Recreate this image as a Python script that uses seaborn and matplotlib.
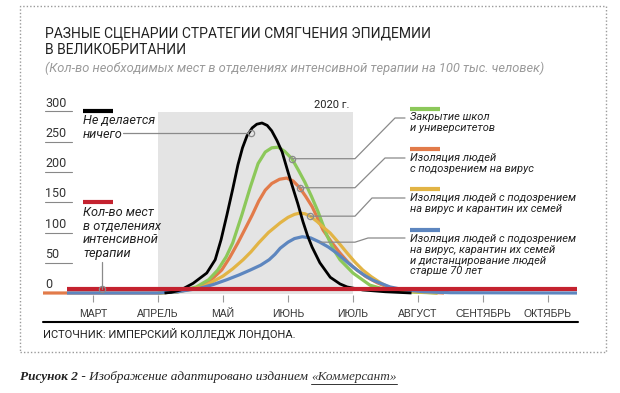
import numpy as np
import pandas as pd
import seaborn as sns
import matplotlib.pyplot as plt
from matplotlib.lines import Line2D
from matplotlib.patches import Rectangle

# x = months since start of March (0 = МАРТ ... 7 = ОКТЯБРЬ), y = ICU beds per 100k
months = ["МАРТ", "АПРЕЛЬ", "МАЙ", "ИЮНЬ", "ИЮЛЬ", "АВГУСТ", "СЕНТЯБРЬ", "ОКТЯБРЬ"]
y_ticks = [50, 100, 150, 200, 250, 300]

black_m = [1.1, 1.2, 1.35, 1.54, 1.75, 1.88, 1.97, 2.06, 2.15, 2.23, 2.3, 2.37, 2.45, 2.52,
           2.6, 2.68, 2.75, 2.83, 2.91, 3.0, 3.08, 3.15, 3.23, 3.3, 3.37, 3.49, 3.65, 3.8, 3.91,
           4.15, 4.5, 4.9]
black_v = [0, 1, 5, 16, 33, 55, 88, 129, 172, 212, 240, 260, 273, 279,
           281, 277, 268, 252, 233, 200, 172, 148, 118, 95, 76, 50, 26, 15, 10,
           5, 2, 0]

green_m = [1.0, 1.3, 1.59, 1.78, 1.92, 2.05, 2.15, 2.29, 2.42, 2.54, 2.65, 2.75, 2.85,
           2.95, 3.06, 3.16, 3.26, 3.36, 3.46, 3.6, 3.7, 3.8, 4.0, 4.26, 4.52, 4.8, 5.3]
green_v = [0, 2, 10, 22, 38, 60, 83, 129, 175, 214, 233, 240, 241,
           234, 222, 203, 183, 160, 135, 95, 72, 55, 33, 13, 5, 2, 0]

orange_m = [-0.77, 1.0, 1.3, 1.65, 1.82, 1.98, 2.1, 2.23, 2.35, 2.45, 2.55, 2.65, 2.75, 2.87,
            2.98, 3.08, 3.18, 3.27, 3.37, 3.45, 3.54, 3.67, 3.8, 3.93, 4.06, 4.2, 4.37, 4.57,
            4.85, 5.4]
orange_v = [0, 0, 2, 10, 22, 38, 58, 83, 108, 129, 152, 170, 181, 188,
            190, 185, 174, 160, 143, 125, 104, 84, 66, 50, 38, 27, 17, 8,
            3, 0]

yellow_m = [1.0, 1.3, 1.69, 2.0, 2.15, 2.31, 2.43, 2.55, 2.7, 2.88, 3.0, 3.1, 3.18, 3.26,
            3.34, 3.45, 3.55, 3.65, 3.78, 3.91, 4.03, 4.15, 4.28, 4.42, 4.57, 4.8, 5.3]
yellow_v = [0, 2, 10, 28, 40, 55, 68, 83, 100, 116, 125, 130, 132, 131,
            127, 118, 108, 99, 83, 66, 51, 38, 27, 17, 8, 3, 0]

blue_m = [-0.4, 1.0, 1.3, 1.65, 1.85, 2.06, 2.25, 2.42, 2.58, 2.71, 2.8, 2.88, 3.0, 3.1, 3.22,
          3.35, 3.49, 3.62, 3.75, 3.9, 4.06, 4.18, 4.31, 4.45, 4.57, 4.8, 5.1, 5.5, 7.45]
blue_v = [0, 0, 2, 8, 14, 22, 30, 38, 46, 55, 64, 74, 84, 90, 93,
          91, 84, 76, 66, 52, 38, 29, 21, 15, 10, 5, 2, 0.5, 0]

red_m = [-0.4, 7.45]
red_v = [7, 7]

series = [
    ("orange", orange_m, orange_v, "#e27b4a", 2.3),
    ("green", green_m, green_v, "#8cc85a", 2.3),
    ("yellow", yellow_m, yellow_v, "#e2b445", 2.3),
    ("blue", blue_m, blue_v, "#5d86bf", 2.3),
    ("black", black_m, black_v, "#000000", 2.0),
    ("red", red_m, red_v, "#c4222f", 3.0),
]
df = pd.concat([pd.DataFrame({"month": m, "value": v, "scenario": name})
                for name, m, v, _, _ in series], ignore_index=True)

sns.set_theme(style="white")
plt.rcParams["font.family"] = ["Roboto", "DejaVu Sans"]

W, H = 620, 393
fig = plt.figure(figsize=(6.2, 3.93), dpi=100)

# pixel helpers (figure is laid out in pixels of the reference)
X0, DX, Y0, DY = 93, 65, 293, 0.605
def px2m(px):
    return (px - X0) / DX
def py2v(py):
    return (Y0 - py) / DY
def fx(px):
    return px / W
def fy(py):
    return 1 - py / H

ax = fig.add_axes([fx(43), fy(295), (577 - 43) / W, (295 - 100) / H])
ax.set_xlim(px2m(43), px2m(577))
ax.set_ylim(py2v(295), py2v(100))

ax.fill_between([1, 4], -2, 300, color="#e4e4e4", lw=0, zorder=0)
ax.text(px2m(349), py2v(105), "2020 г.", ha="right", va="center", fontsize=8, color="#222")

for name, m, v, color, lw in series:
    sns.lineplot(data=df[df.scenario == name], x="month", y="value", color=color, lw=lw,
                 sort=False, estimator=None, ax=ax, solid_capstyle="butt", zorder=3)

# y value labels with short underlines
for t in y_ticks:
    ax.text(px2m(45), t + 3, str(t), ha="left", va="bottom", fontsize=9, color="#333", clip_on=False)
    ax.plot([px2m(45), px2m(72)], [t, t], color="#888", lw=0.8, clip_on=False)
ax.text(px2m(45), 3, "0", ha="left", va="bottom", fontsize=9, color="#333", clip_on=False)

ax.set_xticks(range(len(months)))
ax.set_xticklabels(months, family=["Liberation Sans", "DejaVu Sans"])
ax.set_yticks([])
ax.tick_params(axis="x", bottom=True, length=5, width=0.8, color="#999", pad=5,
               labelsize=7.5, labelcolor="#333")
for s in ax.spines.values():
    s.set_visible(False)
ax.set_xlabel("")
ax.set_ylabel("")
ax.patch.set_alpha(0)

# pointers
pcol = "#8a8a8a"
def pointer(pts, marker_at=None):
    ax.plot([px2m(p[0]) for p in pts], [py2v(p[1]) for p in pts], color=pcol, lw=0.9,
            clip_on=False, zorder=4)
    if marker_at is not None:
        ax.plot([px2m(marker_at[0])], [py2v(marker_at[1])], marker="o", ms=4.5, mfc="none",
                mec=pcol, mew=0.9, zorder=5)

def anchor(ms, vs, at):
    v = np.interp(at, ms, vs)
    return X0 + DX * at, Y0 - DY * v

gx, gy = anchor(green_m, green_v, 3.06)
pointer([(gx, gy), (355, gy), (395, 118), (405, 118)], (gx, gy))
ox, oy = anchor(orange_m, orange_v, 3.18)
pointer([(ox, oy), (355, oy), (385, 158), (405, 158)], (ox, oy))
yx, yy = anchor(yellow_m, yellow_v, 3.34)
pointer([(yx, yy), (355, yy), (372, 198), (405, 198)], (yx, yy))
bx, by = anchor(blue_m, blue_v, 3.49)
pointer([(bx, by), (355, by), (368, 238), (405, 238)])
kx, ky = 248, 133
pointer([(123, ky), (kx, ky)], (kx + 3, ky))
pointer([(102, 262), (102, 289)], (102, 289))

# legend swatches and labels
def swatch(x0, x1, py, color):
    ax.plot([px2m(x0), px2m(x1)], [py2v(py)] * 2, color=color, lw=3, clip_on=False,
            solid_capstyle="butt")

def label(px, py, s, size, ls=1.1):
    fig.text(fx(px), fy(py), s, ha="left", va="top", fontsize=size, style="italic",
             color="#222", linespacing=ls)

swatch(83, 113, 111, "#000000")
label(83, 114, "Не делается\nничего", 9.2, 1.05)
swatch(83, 113, 202, "#c4222f")
label(83, 206, "Кол-во мест\nв отделениях\nинтенсивной\nтерапии", 9.2, 1.05)

swatch(410, 440, 109, "#8cc85a")
label(410, 112, "Закрытие школ\nи университетов", 8)
swatch(410, 440, 149, "#e27b4a")
label(410, 153, "Изоляция людей\nс подозрением на вирус", 8)
swatch(410, 440, 189, "#e2b445")
label(410, 193, "Изоляция людей с подозрением\nна вирус и карантин их семей", 8)
swatch(410, 440, 230, "#5d86bf")
label(410, 234, "Изоляция людей с подозрением\nна вирус, карантин их семей\n"
      "и дистанцирование людей\nстарше 70 лет", 8)

# titles
fig.text(fx(45), fy(33), "РАЗНЫЕ СЦЕНАРИИ СТРАТЕГИИ СМЯГЧЕНИЯ ЭПИДЕМИИ", fontsize=10,
         color="#222", va="center")
fig.text(fx(45), fy(50), "В ВЕЛИКОБРИТАНИИ", fontsize=10, color="#222", va="center")
fig.text(fx(45), fy(68), "(Кол-во необходимых мест в отделениях интенсивной терапии на 100 тыс. человек)",
         fontsize=9.3, style="italic", color="#9a9a9a", va="center")

# bottom rule and source
fig.add_artist(Line2D([fx(43), fx(578)], [fy(322), fy(322)], color="black", lw=1.5))
fig.text(fx(43), fy(334), "ИСТОЧНИК: ИМПЕРСКИЙ КОЛЛЕДЖ ЛОНДОНА.", fontsize=8, color="#222",
         va="center")

# dotted frame
fig.add_artist(Rectangle((fx(20), fy(352)), (606 - 20) / W, (352 - 6) / H, transform=fig.transFigure,
                         fill=False, ec="#9a9a9a", lw=1.0, ls=(0, (1, 1.5))))

# caption
serif = ["Liberation Serif", "DejaVu Serif"]
fig.canvas.draw()
r = fig.canvas.get_renderer()
t1 = fig.text(fx(20), fy(377), "Рисунок 2", family=serif, fontsize=9.5, weight="bold",
              style="italic", color="#222", va="center")
x = t1.get_window_extent(r).x1
t2 = fig.text(x / W, fy(377), " - Изображение адаптировано изданием ", family=serif, fontsize=9.5,
              style="italic", color="#222", va="center")
x = t2.get_window_extent(r).x1
t3 = fig.text(x / W, fy(377), "«Коммерсант»", family=serif, fontsize=9.5, style="italic",
              color="#333", va="center")
e = t3.get_window_extent(r)
fig.add_artist(Line2D([e.x0 / W, e.x1 / W], [fy(384), fy(384)], color="#333", lw=0.7))

fig.savefig("out.png", dpi=100, facecolor="white")
